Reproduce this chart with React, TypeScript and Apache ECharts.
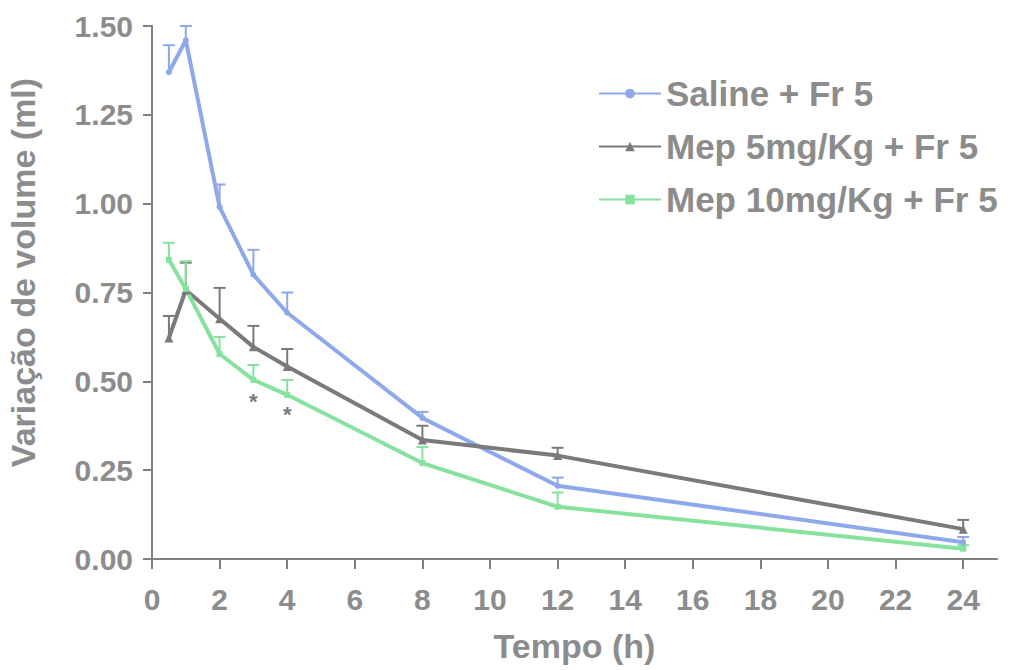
import React, { useEffect, useRef } from "react";
import * as echarts from "echarts";

const times = [0.5, 1, 2, 3, 4, 8, 12, 24];
const salineMean = [1.37, 1.46, 0.99, 0.8, 0.693, 0.397, 0.206, 0.047];
const salineErr = [0.076, 0.04, 0.064, 0.07, 0.057, 0.017, 0.023, 0.015];
const mep5Mean = [0.622, 0.757, 0.676, 0.597, 0.542, 0.335, 0.291, 0.084];
const mep5Err = [0.062, 0.077, 0.087, 0.059, 0.049, 0.04, 0.022, 0.026];
const mep10Mean = [0.842, 0.76, 0.577, 0.504, 0.462, 0.27, 0.147, 0.029];
const mep10Err = [0.048, 0.078, 0.048, 0.042, 0.042, 0.045, 0.04, 0.01];
const seriesNames = ["Saline + Fr 5", "Mep 5mg/Kg + Fr 5", "Mep 10mg/Kg + Fr 5"];
const starTimes = [3, 4];
const starValues = [0.443, 0.408];
const xTicks = [0, 2, 4, 6, 8, 10, 12, 14, 16, 18, 20, 22, 24];

const BLUE = "#8ea8ea";
const GRAY = "#7a7a7a";
const GREEN = "#86e29e";
const TEXT = "#8c8c8c";
const FONT = "'Liberation Sans', Arial, sans-serif";

function errSeries(name: string, mean: number[], err: number[], color: string) {
  return {
    type: "custom",
    name: name + " err",
    z: 1,
    silent: true,
    data: times.map((t, i) => [t, mean[i], mean[i] + err[i]]),
    renderItem: (params: any, api: any) => {
      const p0 = api.coord([api.value(0), api.value(1)]);
      const p1 = api.coord([api.value(0), api.value(2)]);
      const hw = 6;
      return {
        type: "group",
        children: [
          {
            type: "line",
            shape: { x1: p0[0], y1: p0[1], x2: p1[0], y2: p1[1] },
            style: { stroke: color, lineWidth: 2 },
          },
          {
            type: "line",
            shape: { x1: p1[0] - hw, y1: p1[1], x2: p1[0] + hw, y2: p1[1] },
            style: { stroke: color, lineWidth: 2 },
          },
        ],
      };
    },
  };
}

function lineSeries(name: string, mean: number[], color: string, symbol: string, size: number) {
  return {
    type: "line",
    name,
    z: 3,
    data: times.map((t, i) => [t, mean[i]]),
    symbol,
    symbolSize: size,
    showAllSymbol: true,
    lineStyle: { color, width: 4 },
    itemStyle: { color },
  };
}

export default function App() {
  const ref = useRef<HTMLDivElement>(null);
  useEffect(() => {
    document.body.style.margin = "0";
    if (!ref.current) return;
    const chart = echarts.init(ref.current, undefined, { renderer: "svg" });
    chart.setOption({
      animation: false,
      backgroundColor: "#ffffff",
      grid: {
        left: 152,
        right: 17,
        top: 26,
        bottom: 111,
        containLabel: false,
        outerBoundsMode: "none",
      },
      legend: {
        orient: "vertical",
        left: 598,
        top: 76,
        padding: 0,
        itemWidth: 62,
        itemHeight: 12,
        itemGap: 18,
        data: seriesNames,
        textStyle: { color: TEXT, fontSize: 35, fontWeight: "bold", fontFamily: FONT },
      },
      xAxis: {
        type: "value",
        min: 0,
        max: 25,
        interval: 2,
        name: "Tempo (h)",
        nameLocation: "middle",
        nameGap: 70,
        nameTextStyle: { color: TEXT, fontSize: 34, fontWeight: "bold", fontFamily: FONT },
        splitLine: { show: false },
        axisLine: { lineStyle: { color: "#808080", width: 2 } },
        axisTick: { length: 10, customValues: xTicks, lineStyle: { color: "#808080", width: 2 } },
        axisLabel: {
          customValues: xTicks,
          margin: 25,
          color: TEXT,
          fontSize: 30,
          fontWeight: "bold",
          fontFamily: FONT,
        },
      },
      yAxis: {
        type: "value",
        min: 0,
        max: 1.5,
        interval: 0.25,
        name: "Variação de volume (ml)",
        nameLocation: "middle",
        nameGap: 112,
        nameTextStyle: {
          color: TEXT,
          fontSize: 34,
          fontWeight: "bold",
          fontFamily: FONT,
          padding: [0, 0, 0, 40],
        },
        splitLine: { show: false },
        axisLine: { show: true, lineStyle: { color: "#808080", width: 2 } },
        axisTick: { show: true, length: 9, lineStyle: { color: "#808080", width: 2 } },
        axisLabel: {
          margin: 19,
          color: TEXT,
          fontSize: 30,
          fontWeight: "bold",
          fontFamily: FONT,
          formatter: (v: number) => v.toFixed(2),
        },
      },
      series: [
        errSeries(seriesNames[0], salineMean, salineErr, BLUE),
        errSeries(seriesNames[1], mep5Mean, mep5Err, GRAY),
        errSeries(seriesNames[2], mep10Mean, mep10Err, GREEN),
        lineSeries(seriesNames[0], salineMean, BLUE, "circle", 6),
        lineSeries(seriesNames[1], mep5Mean, GRAY, "triangle", 9),
        lineSeries(seriesNames[2], mep10Mean, GREEN, "rect", 6),
        {
          type: "custom",
          name: "sig",
          silent: true,
          data: starTimes.map((t, i) => [t, starValues[i]]),
          renderItem: (params: any, api: any) => {
            const p = api.coord([api.value(0), api.value(1)]);
            return {
              type: "text",
              x: p[0],
              y: p[1],
              style: {
                text: "*",
                fill: GRAY,
                fontSize: 22,
                fontWeight: "bold",
                fontFamily: FONT,
                align: "center",
                verticalAlign: "middle",
              },
            };
          },
        },
      ],
    });
    return () => chart.dispose();
  }, []);
  return <div ref={ref} style={{ width: 1014, height: 670 }} />;
}
